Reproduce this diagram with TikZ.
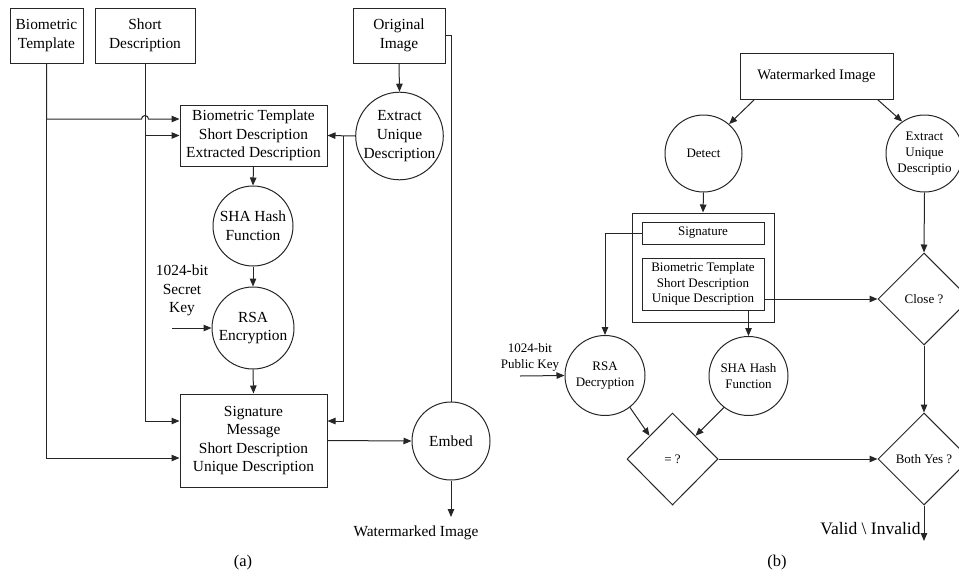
\documentclass[tikz,border=0pt]{standalone}
\usepackage{fontspec}
\setmainfont{Liberation Serif}
\usetikzlibrary{arrows.meta, positioning, shapes.geometric, calc}

\begin{document}
\begin{tikzpicture}[x=1pt, y=-1pt, line width=1pt, draw=black!85,
    lfont/.style={font=\fontsize{15.4}{18.6}\selectfont},
    rfont/.style={font=\fontsize{13}{15.8}\selectfont},
    lbox/.style={draw, lfont, align=center, inner sep=0pt},
    lcirc/.style={draw, circle, lfont, align=center, inner sep=0pt},
    rbox/.style={draw, rfont, align=center, inner sep=0pt},
    rcirc/.style={draw, circle, rfont, align=center, inner sep=0pt},
    rdiam/.style={draw, diamond, rfont, align=center, inner sep=0pt, minimum width=92pt, minimum height=92pt},
    arr/.style={-{Triangle[length=8pt, width=6.5pt]}}]

    \useasboundingbox (0,0) rectangle (959,576);
    \clip (0,0) rectangle (959,576);

    % ---------- (a) signing side ----------
    \node[lbox, minimum width=73pt, minimum height=55pt] (bio) at (46.5,35.5) {Biometric\\Template};
    \node[lbox, minimum width=100pt, minimum height=55pt] (sdesc) at (145,35.5) {Short\\Description};
    \node[lbox, minimum width=92pt, minimum height=55pt] (orig) at (399,35.5) {Original\\Image};
    \node[lcirc, minimum size=87pt] (extract) at (399.5,136) {Extract\\Unique\\Description};
    \node[lbox, minimum width=147pt, minimum height=61pt] (hashin) at (253.5,135.5) {Biometric Template\\Short Description\\Extracted Description};
    \node[lcirc, minimum size=80pt] (sha) at (253,226) {SHA Hash\\Function};
    \node[lcirc, minimum size=82pt] (rsa) at (253,328) {RSA\\Encryption};
    \node[lfont, align=center] (seckey) at (182,290.5) {1024-bit\\Secret\\Key};
    \coordinate (seckeyin) at (172,328);
    \node[lbox, minimum width=147pt, minimum height=93pt] (sigmsg) at (253.5,440.5) {Signature\\Message\\Short Description\\Unique Description};
    \node[lcirc, minimum size=78pt] (embed) at (451,441) {Embed};
    \node[lfont] (wmout) at (416,533) {Watermarked Image};
    \coordinate (wmend) at (451,517);
    \node[font=\fontsize{16.5}{18}\selectfont] (capa) at (243,563) {(a)};

    % inputs to the hash box (with hop over the short description line)
    \coordinate (hop) at ($(sdesc.south |- hashin.west)+(0,-16.5)$);
    \draw[arr] (bio.south) |- ($(hop)+(-3.5,0)$) arc (180:360:3.5) -- ([yshift=16.5pt]hashin.west);
    \draw[arr] (sdesc.south) |- (hashin.west);
    \draw[arr] (orig.south) -- (extract.north);
    \draw[arr] (extract.west) -- (hashin.east);
    \coordinate (branch) at (343,136);
    \draw[arr] (branch) |- ([yshift=19.5pt]sigmsg.east);

    % hash and encrypt
    \draw[arr] (hashin.south) -- (sha.north);
    \draw[arr] (sha.south) -- (rsa.north);
    \draw[arr] (seckeyin) -- (rsa.west);
    \draw[arr] (rsa.south) -- (sigmsg.north);

    % into the signature message
    \draw[arr] (sdesc.south) |- ([yshift=19.5pt]sigmsg.west);
    \draw[arr] (bio.south) |- ([yshift=-17.5pt]sigmsg.west);

    % embedding
    \draw (orig.east) -| (embed.north);
    \draw[arr] (sigmsg.east) -- (embed.west);
    \draw[arr] (embed.south) -- (wmend);

    % ---------- (b) verifying side ----------
    \node[draw, align=center, inner sep=0pt, font=\fontsize{14.6}{17}\selectfont, minimum width=153pt, minimum height=46pt] (wmin) at (816.5,76) {Watermarked Image};
    \node[rcirc, minimum size=77pt] (detect) at (703.5,153.5) {Detect};
    \node[rcirc, minimum size=77pt] (extract2) at (924.5,153.5) {Extract\\Unique\\Descriptio};
    \node[draw, minimum width=142pt, minimum height=109pt] (payload) at (703,267.5) {};
    \node[rbox, minimum width=122pt, minimum height=22pt] (sig) at (703,233) {Signature};
    \node[rbox, minimum width=122pt, minimum height=52pt] (descs) at (703,284) {Biometric Template\\Short Description\\Unique Description};
    \node[rcirc, minimum size=80pt] (rsad) at (605,375.5) {RSA\\Decryption};
    \node[rcirc, minimum size=79pt] (sha2) at (748.5,376) {SHA Hash\\Function};
    \node[rfont, align=center] (pubkey) at (530,357) {1024-bit\\Public Key};
    \coordinate (pubkeyin) at (520,376);
    \node[rdiam, minimum width=91pt] (equal) at (672.5,459) {= ?};
    \node[rdiam] (close) at (924,299) {Close ?};
    \node[rdiam] (both) at (924,459) {Both Yes ?};
    \node[anchor=east, font=\fontsize{17.5}{20}\selectfont, inner sep=0pt] (valid) at (921,529) {Valid \textbackslash{} Invalid};
    \coordinate (vend) at (924,541);
    \node[font=\fontsize{16.5}{18}\selectfont] (capb) at (777,563) {(b)};

    \draw[arr] ([xshift=15pt]wmin.south west) -- (detect.49);
    \draw[arr] ([xshift=-16pt]wmin.south east) -- (extract2.125);
    \draw[arr] (detect.south) -- (payload.north);
    \draw[arr] (extract2.south) -- (close.north);
    \draw[arr] (sig.west) -| (rsad.north);
    \draw[arr] (sha2.north |- descs.south) -- (sha2.north);
    \draw[arr] (descs.east |- close.west) -- (close.west);
    \draw[arr] (pubkeyin) -- (rsad.west);
    \draw[arr] (rsad.-52) -- (equal.north west);
    \draw[arr] (sha2.232) -- (equal.north east);
    \draw[arr] (equal.east) -- (both.west);
    \draw[arr] (close.south) -- (both.north);
    \draw[arr] (both.south) -- (vend);

\end{tikzpicture}
\end{document}
